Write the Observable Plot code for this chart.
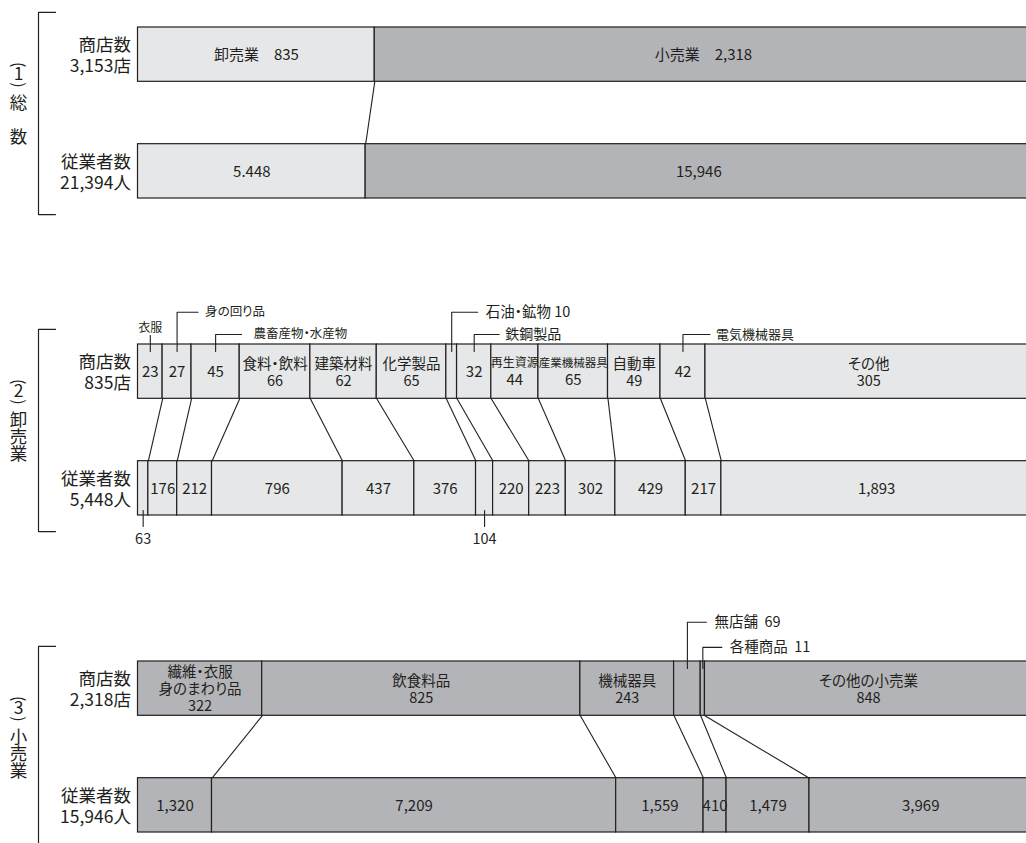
<!DOCTYPE html>
<html><head><meta charset="utf-8">
<script src="https://cdn.jsdelivr.net/npm/d3@7"></script>
<script src="https://cdn.jsdelivr.net/npm/@observablehq/plot@0.6"></script>
<style>
html,body{margin:0;padding:0;background:#fff;overflow:hidden;}
#chart svg{display:block;}
#chart svg text{font-feature-settings:"palt" 1;}
</style></head><body><div id="chart"></div>
<script>
// ---------- data ----------
const panels = ["総数", "卸売業", "小売業"];
const panelNumbers = ["1", "2", "3"];
const panelTitles = ["総　数", "卸売業", "小売業"];
const rowNames = ["商店数", "従業者数"];
const rowTotals1 = ["3,153店", "21,394人"];
const rowTotals2 = ["835店", "5,448人"];
const rowTotals3 = ["2,318店", "15,946人"];

const cats1 = ["卸売業", "小売業"];
const stores1 = [835, 2318];
const workers1 = [5448, 15946];
const storeLabels1 = ["卸売業　835", "小売業　2,318"];
const workerLabels1 = ["5.448", "15,946"];

const cats2 = ["衣服", "身の回り品", "農畜産物・水産物", "食料・飲料", "建築材料", "化学製品", "石油・鉱物", "鉄鋼製品", "再生資源", "産業機械器具", "自動車", "電気機械器具", "その他"];
const stores2 = [23, 27, 45, 66, 62, 65, 10, 32, 44, 65, 49, 42, 305];
const workers2 = [63, 176, 212, 796, 437, 376, 104, 220, 223, 302, 429, 217, 1893];

const cats3 = ["繊維・衣服\n身のまわり品", "飲食料品", "機械器具", "無店舗", "各種商品", "その他の小売業"];
const stores3 = [322, 825, 243, 69, 11, 848];
const workers3 = [1320, 7209, 1559, 410, 1479, 3969];

// ---------- label placement config ----------
const namedInside2 = new Set(["食料・飲料", "建築材料", "化学製品", "再生資源", "産業機械器具", "自動車", "その他"]);
const valueOnly2 = new Set(["衣服", "身の回り品", "農畜産物・水産物", "鉄鋼製品", "電気機械器具"]);
const belowCallout2 = new Set(["衣服", "石油・鉱物"]);
const namedInside3 = new Set(["繊維・衣服\n身のまわり品", "飲食料品", "機械器具", "その他の小売業"]);
const nameSizes = {"再生資源": 12, "産業機械器具": 11.5};
const leaderCfg = [
  {p: 1, cat: "衣服", kind: "plainUp", y: -16, size: 12},
  {p: 1, cat: "身の回り品", kind: "elbow", y: -32, arm: 21, gap: 28, size: 12.5},
  {p: 1, cat: "農畜産物・水産物", kind: "elbow", y: -10, arm: 26, gap: 38, size: 12.5},
  {p: 1, cat: "石油・鉱物", kind: "elbow", y: -32, arm: 26, gap: 34, size: 14.5, value: " "},
  {p: 1, cat: "鉄鋼製品", kind: "elbow", y: -10, arm: 25, gap: 31, size: 14},
  {p: 1, cat: "電気機械器具", kind: "elbow", y: -10, arm: 27, gap: 33, size: 13},
  {p: 1, cat: "衣服", kind: "plainDown", size: 14.5},
  {p: 1, cat: "石油・鉱物", kind: "plainDown", size: 14.5},
  {p: 2, cat: "無店舗", kind: "elbow", y: -39, arm: 19, gap: 27, size: 14.5, value: "  "},
  {p: 2, cat: "各種商品", kind: "elbow", y: -14, arm: 19, gap: 27, size: 14.5, value: "  "}
];

// ---------- layout ----------
const BAR = 54, PANEL_H = 170, LINE = 17;
const XR = [137.5, 1031.5];
const PX = 1 / (XR[1] - XR[0]);
const LIGHT = "#e6e7e8", DARK = "#b3b4b7", INK = "#231f20";
const FONT = "'Noto Sans CJK JP', 'Noto Sans', sans-serif";
const fmt = d3.format(",");

function segs(panel, row, cats, values) {
  const total = d3.sum(values);
  let acc = 0;
  return values.map((value, i) => {
    const x1 = acc / total; acc += value; const x2 = acc / total;
    return {panel, row, cat: cats[i], value, i, x1, x2, cx: (x1 + x2) / 2};
  });
}
const bars = [
  [segs(panels[0], 0, cats1, stores1), segs(panels[0], 1, cats1, workers1)],
  [segs(panels[1], 0, cats2, stores2), segs(panels[1], 1, cats2, workers2)],
  [segs(panels[2], 0, cats3, stores3), segs(panels[2], 1, cats3, workers3)]
];
const allSegs = bars.flat(2);
const rowY = r => r === 0 ? [0, BAR] : [PANEL_H - BAR, PANEL_H];
const fillOf = d => d.panel === panels[0] ? (d.i === 0 ? LIGHT : DARK) : d.panel === panels[1] ? LIGHT : DARK;

const conns = bars.flatMap(([top, bot]) => top.slice(0, -1).map((d, i) => ({panel: d.panel, xt: d.x2, xb: bot[i].x2})));

// inside labels: one text element per segment (multi-line), grouped by font size
const labels = [];
function addInside(seg, lines, size) {
  const mid = seg.row === 0 ? BAR / 2 : PANEL_H - BAR / 2;
  labels.push({panel: seg.panel, x: seg.cx, y: mid, text: lines.join("\n"), size});
}
bars[0][0].forEach((s, i) => addInside(s, [storeLabels1[i]], 15));
bars[0][1].forEach((s, i) => addInside(s, [workerLabels1[i]], 15));
const condensed = []; // names drawn narrower, with their value on a separate line
bars[1][0].forEach(s => {
  if (namedInside2.has(s.cat)) {
    if (nameSizes[s.cat]) {
      condensed.push({panel: s.panel, x: s.cx, y: BAR / 2 - LINE / 2, text: s.cat, size: nameSizes[s.cat]});
      condensed.push({panel: s.panel, x: s.cx, y: BAR / 2 + LINE / 2, text: fmt(s.value), size: 15});
    } else addInside(s, [s.cat, fmt(s.value)], 14.5);
  } else if (valueOnly2.has(s.cat)) addInside(s, [fmt(s.value)], 15);
});
bars[1][1].forEach(s => { if (!belowCallout2.has(s.cat)) addInside(s, [fmt(s.value)], 15); });
bars[2][0].forEach(s => {
  if (namedInside3.has(s.cat)) addInside(s, [...s.cat.split("\n"), fmt(s.value)], 14.5);
});
bars[2][1].forEach(s => addInside(s, [fmt(s.value)], 15));
const labelSizes = [...new Set(labels.map(d => d.size))];

// leaders
const leaderPts = [], leaderText = [];
leaderCfg.forEach((c, id) => {
  const row = c.kind === "plainDown" ? 1 : 0;
  const s = bars[c.p][row].find(d => d.cat === c.cat);
  const panel = panels[c.p];
  if (c.kind === "plainUp") {
    leaderPts.push({id, panel, x: s.cx, y: 7}, {id, panel, x: s.cx, y: -9});
    leaderText.push({panel, x: s.cx, y: c.y, text: s.cat, size: c.size, anchor: "middle"});
  } else if (c.kind === "plainDown") {
    leaderPts.push({id, panel, x: s.cx, y: PANEL_H - 5}, {id, panel, x: s.cx, y: PANEL_H + 11});
    leaderText.push({panel, x: s.cx, y: PANEL_H + 24, text: fmt(s.value), size: c.size, anchor: "middle"});
  } else {
    leaderPts.push({id, panel, x: s.cx, y: 7}, {id, panel, x: s.cx, y: c.y}, {id, panel, x: s.cx + c.arm * PX, y: c.y});
    const t = c.value ? s.cat + c.value + fmt(s.value) : s.cat;
    leaderText.push({panel, x: s.cx + c.gap * PX, y: c.y, text: t, size: c.size, anchor: "start"});
  }
});

// row labels
const rowTotals = [rowTotals1, rowTotals2, rowTotals3];
const rowLabels = panels.flatMap((panel, p) => rowNames.map((n, r) => ({panel, y: (rowY(r)[0] + rowY(r)[1]) / 2, text: n + "\n" + rowTotals[p][r]})));

// panel labels (vertical)
const PANEL_X = (18 - XR[0]) * PX;
const panelChars = panels.flatMap((panel, p) => {
  const out = [
    {panel, y: 37, text: "(", rot: 90, size: 16},
    {panel, y: 47, text: panelNumbers[p], rot: 0, size: 17.5},
    {panel, y: 57, text: ")", rot: 90, size: 16}
  ];
  [...panelTitles[p]].forEach((ch, k) => out.push({panel, y: 75 + k * 17, text: ch, rot: 0, size: 17.5}));
  return out;
});
// bracket
const BX = (38 - XR[0]) * PX, BT = (55 - XR[0]) * PX;
const bracket = panels.flatMap(panel => [
  {panel, x: BT, y: -15}, {panel, x: BX, y: -15}, {panel, x: BX, y: PANEL_H + 16}, {panel, x: BT, y: PANEL_H + 16}
]);

const chart = Plot.plot({
  width: 1026, height: 843,
  marginTop: 27, marginBottom: 10, marginLeft: 0, marginRight: 0,
  x: {domain: [0, 1], range: XR, axis: null},
  y: {domain: [0, PANEL_H], reverse: true, axis: null},
  fy: {domain: panels, paddingInner: 0.46, paddingOuter: 0, axis: null},
  style: {fontFamily: FONT, color: INK, background: "white"},
  marks: [
    Plot.rect(allSegs, {x1: "x1", x2: "x2", y1: d => rowY(d.row)[0], y2: d => rowY(d.row)[1], fy: "panel", fill: fillOf, stroke: INK, strokeWidth: 1.2}),
    Plot.link(conns, {x1: "xt", x2: "xb", y1: () => BAR, y2: () => PANEL_H - BAR, fy: "panel", stroke: INK, strokeWidth: 1.1}),
    Plot.line(leaderPts, {x: "x", y: "y", z: "id", fy: "panel", stroke: INK, strokeWidth: 1.1}),
    Plot.line(bracket, {x: "x", y: "y", z: "panel", fy: "panel", stroke: INK, strokeWidth: 1.2}),
    ...labelSizes.map(sz => Plot.text(labels.filter(d => d.size === sz), {x: "x", y: "y", text: "text", fy: "panel", fontSize: sz, lineHeight: LINE / sz, fill: INK})),
    Plot.text(condensed, {x: "x", y: "y", text: "text", fy: "panel", fontSize: d => d.size, fill: INK}),
    Plot.text(leaderText.filter(d => d.anchor === "middle"), {x: "x", y: "y", text: "text", fy: "panel", fontSize: d => d.size, textAnchor: "middle", fill: INK}),
    Plot.text(leaderText.filter(d => d.anchor === "start"), {x: "x", y: "y", text: "text", fy: "panel", fontSize: d => d.size, textAnchor: "start", fill: INK}),
    Plot.text(rowLabels, {x: () => 0, y: "y", text: "text", fy: "panel", dx: -7, textAnchor: "end", fontSize: 17.5, lineHeight: 1.22, fill: INK}),
    Plot.text(panelChars, {x: () => PANEL_X, y: "y", text: "text", fy: "panel", rotate: "rot", fontSize: d => d.size, fill: INK})
  ]
});
document.getElementById("chart").appendChild(chart);
</script></body></html>
